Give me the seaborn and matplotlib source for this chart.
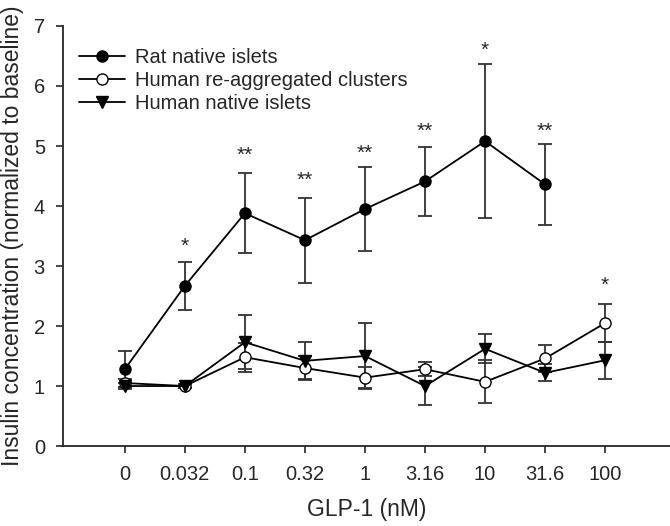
import numpy as np
import pandas as pd
import matplotlib
matplotlib.use('Agg')
import matplotlib.pyplot as plt
import seaborn as sns

sns.set_style('ticks')
plt.rcParams['font.family'] = ['Liberation Sans', 'DejaVu Sans']

# data
doses = ['0', '0.032', '0.1', '0.32', '1', '3.16', '10', '31.6', '100']

rat = [1.28, 2.67, 3.88, 3.43, 3.95, 4.41, 5.08, 4.36, np.nan]
rat_err = [0.30, 0.40, 0.67, 0.71, 0.70, 0.58, 1.28, 0.67, np.nan]

human_reagg = [1.05, 1.00, 1.48, 1.30, 1.14, 1.28, 1.07, 1.46, 2.05]
human_reagg_err = [0.06, 0.03, 0.24, 0.20, 0.18, 0.12, 0.36, 0.23, 0.32]

human_native = [1.00, 1.00, 1.73, 1.42, 1.50, 1.00, 1.62, 1.22, 1.43]
human_native_err = [0.05, 0.03, 0.45, 0.31, 0.55, 0.31, 0.24, 0.14, 0.31]

stars = ['', '*', '**', '**', '**', '**', '*', '**', '*']
star_y = [np.nan, 3.33, 4.85, 4.42, 4.88, 5.25, 6.60, 5.24, 2.68]

series = ['Rat native islets', 'Human re-aggregated clusters', 'Human native islets']

x = np.arange(len(doses))
df = pd.concat([
    pd.DataFrame({'x': x, 'y': rat, 'err': rat_err, 'group': series[0]}),
    pd.DataFrame({'x': x, 'y': human_reagg, 'err': human_reagg_err, 'group': series[1]}),
    pd.DataFrame({'x': x, 'y': human_native, 'err': human_native_err, 'group': series[2]}),
])

fig = plt.figure(figsize=(6.7, 5.26), dpi=100)
ax = fig.add_axes([0.094, 0.152, 0.906, 0.7986])

markers = {series[0]: 'o', series[1]: 'o', series[2]: 'v'}
faces = {series[0]: 'black', series[1]: 'white', series[2]: 'black'}

# error bars first, then lines/markers on top
for g in series:
    d = df[df['group'] == g].dropna()
    ax.errorbar(d['x'], d['y'], yerr=d['err'], fmt='none', ecolor='#333333',
                elinewidth=1.3, capsize=5, capthick=1.3, zorder=1)

for g in series:
    d = df[df['group'] == g].dropna()
    sns.lineplot(data=d, x='x', y='y', ax=ax, color='black', linewidth=1.3,
                 marker=markers[g], markersize=8, markerfacecolor=faces[g],
                 markeredgecolor='black', markeredgewidth=1.0, label=g, zorder=3)

for i, s in enumerate(stars):
    if s:
        ax.text(x[i], star_y[i], s, ha='center', va='center', fontsize=15)

ax.set_xlim(-1.03, 9.08)
ax.set_ylim(0, 7)
ax.set_xticks(x)
ax.set_xticklabels(doses)
ax.set_yticks(range(8))
ax.tick_params(labelsize=14.5, length=5, width=1.2, direction='out', pad=9)
ax.tick_params(axis='y', pad=8)
ax.set_xlabel('GLP-1 (nM)', fontsize=16.5, labelpad=10)
ax.set_ylabel('Insulin concentration (normalized to baseline)', fontsize=16.5, labelpad=7)
for sp in ['left', 'bottom']:
    ax.spines[sp].set_linewidth(1.3)
sns.despine(ax=ax)

ax.legend(loc='upper left', bbox_to_anchor=(-0.004, 0.99), frameon=False, fontsize=14.5,
          handlelength=2.3, handletextpad=0.5, labelspacing=0.2, borderaxespad=0.5)

fig.savefig('out.png', dpi=100)
